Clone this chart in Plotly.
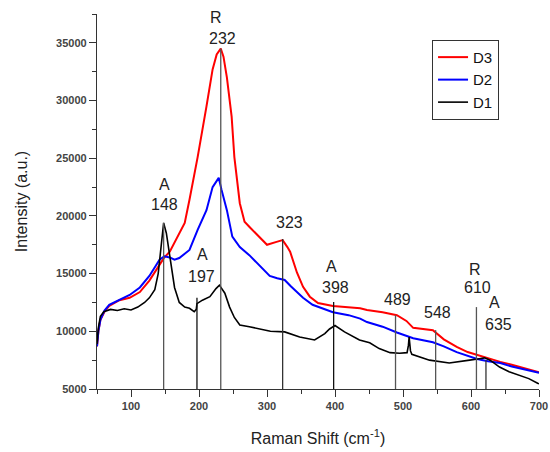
import plotly.graph_objects as go

# ---- data ----
d1_x = [50, 52, 55, 60, 70, 80, 90, 100, 110, 120, 127, 135, 140, 144, 148, 152, 157, 164, 171,
        179, 186, 193, 196, 197, 205, 216, 225, 230, 238, 245, 252, 260, 274, 289, 305, 326, 340,
        348, 370, 385, 392, 400, 414, 436, 451, 465, 481, 495, 506, 508, 509, 511, 513, 539, 568,
        584, 598, 610, 620, 628, 642, 656, 671, 685, 698, 700]
d1_y = [8900, 10300, 11300, 11700, 11900, 11800, 11950, 11850, 12100, 12500, 12900, 13600, 15000,
        17000, 19400, 18500, 16400, 13800, 12500, 12100, 12000, 11700, 11900, 12400, 12700, 13000,
        13700, 14000, 13300, 12100, 11200, 10550, 10400, 10200, 10000, 9950, 9700, 9500, 9250,
        9800, 10200, 10500, 9950, 9250, 9000, 8500, 8150, 8100, 8150, 8800, 9500, 8300, 8000,
        7500, 7250, 7350, 7500, 7600, 7700, 7500, 6900, 6500, 6200, 5900, 5500, 5450]

d2_x = [50, 52, 55, 61, 68, 83, 98, 113, 127, 142, 149, 157, 164, 171, 186, 198, 211, 220, 229,
        233, 241, 249, 260, 274, 289, 304, 315, 326, 335, 345, 353, 367, 382, 397, 420, 437, 447,
        470, 491, 515, 544, 560, 579, 595, 609, 625, 643, 660, 680, 699, 700]
d2_y = [8700, 10000, 11000, 11800, 12300, 12700, 13150, 13800, 14800, 16200, 16500, 16400, 16200,
        16350, 17050, 18800, 20500, 22500, 23300, 22300, 20500, 18200, 17300, 16600, 15700, 14800,
        14600, 14450, 13900, 13300, 12900, 12300, 12000, 11650, 11400, 11100, 10800, 10400, 9900,
        9400, 9050, 8700, 8200, 7900, 7600, 7400, 7250, 6950, 6700, 6400, 6400]

d3_x = [50, 52, 55, 61, 68, 83, 98, 113, 127, 142, 149, 157, 164, 171, 179, 186, 198, 211, 220,
        226, 232, 236, 241, 248, 252, 260, 267, 275, 289, 300, 314, 323, 330, 334, 344, 353, 363,
        375, 397, 437, 447, 470, 491, 505, 515, 530, 544, 560, 579, 595, 609, 625, 643, 660, 680,
        699, 700]
d3_y = [8700, 10000, 11000, 11700, 12200, 12700, 12900, 13400, 14400, 15700, 16400, 16900, 17700,
        18600, 19400, 21400, 25100, 29500, 32700, 34000, 34500, 33800, 32000, 28600, 25100, 21100,
        19500, 19000, 18200, 17500, 17750, 17900, 17300, 16900, 15100, 13850, 13000, 12450, 12200,
        12000, 11850, 11650, 11400, 10900, 10300, 10200, 10100, 9300, 8650, 8200, 7950, 7650, 7350,
        7100, 6800, 6450, 6450]

# peak marker lines (position, top intensity)
peak_x = [148, 197, 232, 323, 398, 489, 548, 608, 622]
peak_top = [19400, 12900, 34500, 18000, 12540, 11400, 10100, 12100, 7500]
peak_color = ["#555", "#111", "#555", "#333", "#111", "#555", "#555", "#555", "#333"]

# peak labels: text, x, y
label_text = ["A", "148", "A", "197", "R", "232", "323", "A", "398", "489", "548", "R", "610", "A", "635"]
label_x = [149, 149, 205, 204, 224.5, 235, 333, 395, 401, 492, 551, 606, 609, 635, 640]
label_y = [22690, 20950, 16620, 14710, 37170, 35350, 19390, 15660, 13760, 12720, 11590, 15320,
           13760, 12460, 10550]

x_ticks = [100, 200, 300, 400, 500, 600, 700]
x_tick_labels = ["100", "200", "300", "400", "500", "600", "700"]
y_ticks = [5000, 10000, 15000, 20000, 25000, 30000, 35000]
y_tick_labels = ["5000", "10000", "15000", "20000", "25000", "30000", "35000"]

FONT = "Liberation Sans, Arial, sans-serif"

fig = go.Figure()
for name, xs, ys, col, w in [("D3", d3_x, d3_y, "#ff0000", 2),
                             ("D2", d2_x, d2_y, "#0000ff", 2),
                             ("D1", d1_x, d1_y, "#000000", 1.6)]:
    fig.add_trace(go.Scatter(x=xs, y=ys, name=name, mode="lines",
                             line=dict(color=col, width=w)))

for px_, top, col in zip(peak_x, peak_top, peak_color):
    fig.add_shape(type="line", xref="x", yref="y", x0=px_, x1=px_, y0=5000, y1=top,
                  line=dict(color=col, width=1.3), layer="above")

for t, lx, ly in zip(label_text, label_x, label_y):
    fig.add_annotation(x=lx, y=ly, text=t, showarrow=False, xref="x", yref="y",
                       font=dict(family=FONT, size=16, color="#222"))

axis_common = dict(
    showline=True, linecolor="#333", linewidth=1.3, ticks="outside", ticklen=7,
    tickwidth=1.2, tickcolor="#333", showgrid=False, zeroline=False, mirror=False,
    automargin=False,
    tickfont=dict(family=FONT, size=11, color="#444", weight="bold"),
)

fig.update_layout(
    width=550, height=452,
    margin=dict(l=97, r=11, t=14, b=63),
    paper_bgcolor="white", plot_bgcolor="white",
    font=dict(family=FONT, color="#222"),
    xaxis=dict(range=[50, 700], tickvals=x_ticks, ticktext=x_tick_labels,
               minor=dict(dtick=50, tick0=50, ticks="outside", ticklen=4, tickcolor="#333"),
               title=dict(text="Raman Shift (cm<sup>-1</sup>)", font=dict(family=FONT, size=16, color="#222"),
                          standoff=21),
               **axis_common),
    yaxis=dict(range=[5000, 37500], tickvals=y_ticks, ticktext=y_tick_labels,
               minor=dict(dtick=2500, tick0=5000, ticks="outside", ticklen=4, tickcolor="#333"),
               title=dict(text="Intensity (a.u.)", font=dict(family=FONT, size=16, color="#222"),
                          standoff=24),
               **axis_common),
    legend=dict(x=0.758, y=0.931, xanchor="left", yanchor="top",
                bordercolor="#333", borderwidth=1, bgcolor="white",
                font=dict(family=FONT, size=15, color="#111"),
                tracegroupgap=0, itemwidth=30, traceorder="normal"),
    showlegend=True,
)

fig.write_html("out.html", config={"displayModeBar": False},
               post_script="document.body.style.margin='0';")
